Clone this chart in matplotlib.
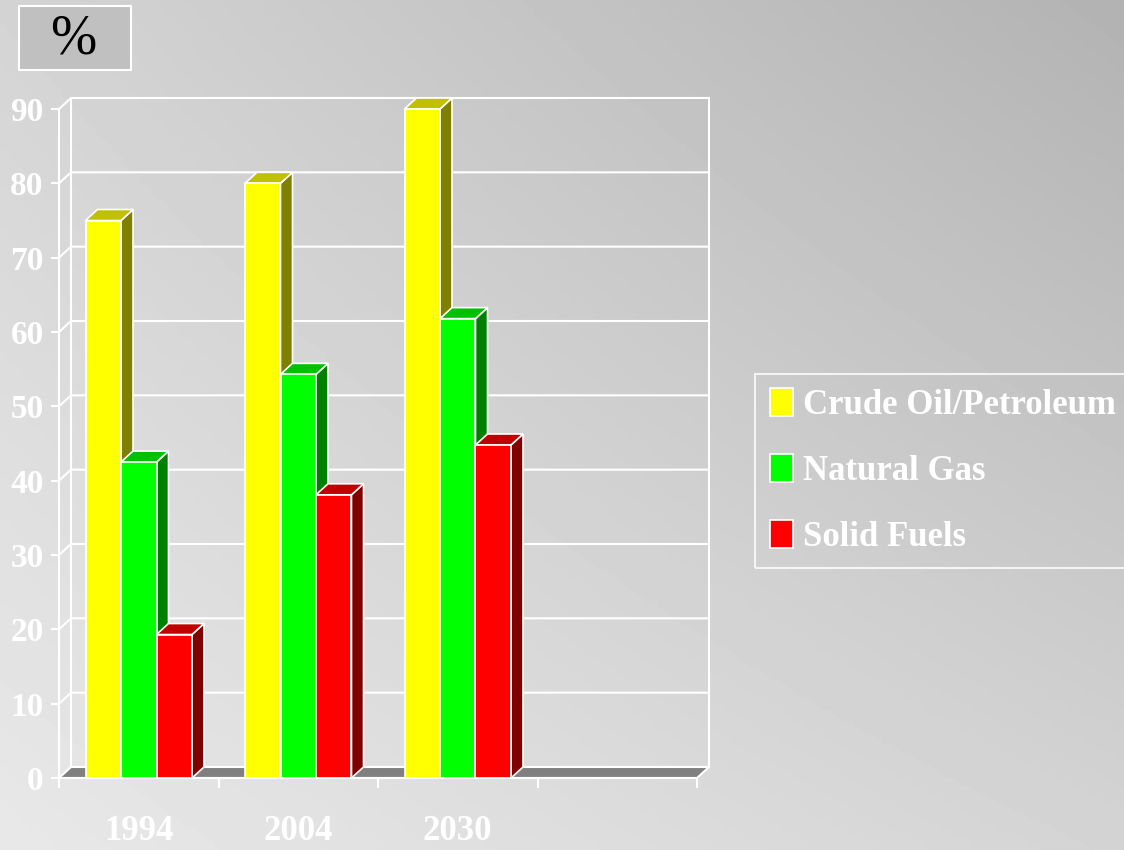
import numpy as np
import matplotlib
matplotlib.use('Agg')
import matplotlib.pyplot as plt
from matplotlib.patches import Polygon, Rectangle, Patch

plt.rcParams['font.family'] = 'Liberation Serif'
plt.rcParams['font.weight'] = 'bold'

# dades (%)
years = ['1994', '2004', '2030']
crude = [75, 80, 90]
gas = [42.5, 54.3, 61.8]
solid = [19.3, 38.1, 44.8]
names = ['Crude Oil/Petroleum', 'Natural Gas', 'Solid Fuels']
yticks = list(range(0, 91, 10))

front = ['#ffff00', '#00ff00', '#ff0000']     # cara frontal
top = ['#c0c000', '#00c000', '#c00000']       # cara superior
side = ['#808000', '#008000', '#800000']      # cara lateral

W, H = 1124, 850
fig = plt.figure(figsize=(W / 100, H / 100), dpi=100)

# fons en degradat gris
bg = fig.add_axes([0, 0, 1, 1], zorder=-10)
xx, yy = np.meshgrid(np.linspace(0, 1, 200), np.linspace(0, 1, 200))
g = 0.83 * (1 - xx) * (1 - yy) + 0.70 * xx * (1 - yy) + 0.91 * (1 - xx) * yy + 0.83 * xx * yy
bg.imshow(g, cmap='gray', vmin=0, vmax=1, extent=[0, 1, 0, 1], aspect='auto', origin='upper')
bg.axis('off')

# eixos: pla frontal del gràfic
ax = fig.add_axes([59 / W, 72 / H, 638 / W, 669 / H])
ax.set_facecolor('none')
ncat = 4
DX = 12 * ncat / 638          # profunditat en unitats de dades
DY = 11 * 90 / 669

# parets del fons i laterals
wall = dict(color='white', lw=1.5, clip_on=False, zorder=1)
for v in yticks:
    ax.plot([0, DX, ncat + DX], [v, v + DY, v + DY], **wall)
ax.plot([DX, DX], [DY, 90 + DY], **wall)
ax.plot([ncat + DX, ncat + DX], [DY, 90 + DY], **wall)

# terra
ax.add_patch(Polygon([(0, 0), (ncat, 0), (ncat + DX, DY), (DX, DY)], closed=True,
                     fc='#808080', ec='white', lw=1.5, clip_on=False, zorder=2))

# barres 3D
w = 35.5 * ncat / 638
series = [crude, gas, solid]
for i in range(len(years)):
    for j, vals in enumerate(series):
        v = vals[i]
        x0 = i + 0.5 - 1.5 * w + j * w
        ax.add_patch(Polygon([(x0 + w, 0), (x0 + w + DX, DY), (x0 + w + DX, v + DY), (x0 + w, v)],
                             closed=True, fc=side[j], ec='white', lw=1.2, clip_on=False, zorder=3))
        ax.add_patch(Polygon([(x0, v), (x0 + w, v), (x0 + w + DX, v + DY), (x0 + DX, v + DY)],
                             closed=True, fc=top[j], ec='white', lw=1.2, clip_on=False, zorder=3))
        ax.bar(x0, v, width=w, align='edge', color=front[j], edgecolor='white', lw=1.2,
               clip_on=False, zorder=3)

ax.set_xlim(0, ncat)
ax.set_ylim(0, 90)

for s in ['top', 'right']:
    ax.spines[s].set_visible(False)
for s in ['left', 'bottom']:
    ax.spines[s].set_color('white')
    ax.spines[s].set_linewidth(1.5)

ax.set_yticks(yticks)
ax.tick_params(axis='y', colors='white', length=6, width=1.5, pad=5, labelsize=24)
ax.set_xticks(range(ncat + 1))
ax.set_xticklabels([])
ax.set_xticks([0.5, 1.5, 2.5], years, minor=True)
ax.tick_params(axis='x', which='major', colors='white', length=7, width=1.5)
ax.tick_params(axis='x', which='minor', length=0, pad=27, labelsize=25, labelcolor='white')

# llegenda
handles = [Patch(fc=c, ec='white', lw=1.2) for c in front]
leg = fig.legend(handles, names, loc='center left', bbox_to_anchor=(755 / W, 1 - 471 / H),
                 frameon=True, fancybox=False, edgecolor='white', facecolor='none',
                 labelcolor='white', fontsize=25, handlelength=0.66, handleheight=0.86,
                 handletextpad=0.3, labelspacing=0.92, borderpad=0.42, borderaxespad=0)
leg.get_frame().set_linewidth(1.5)

# etiqueta d'unitats
fig.add_artist(Rectangle((19 / W, 1 - 70 / H), 112 / W, 64 / H, transform=fig.transFigure,
                         fc='#c0c0c0', ec='white', lw=1.5))
fig.text(73 / W, 1 - 40 / H, '%', ha='center', va='center', fontsize=40,
         fontweight='normal', color='black')

fig.savefig('out.png', dpi=100)
